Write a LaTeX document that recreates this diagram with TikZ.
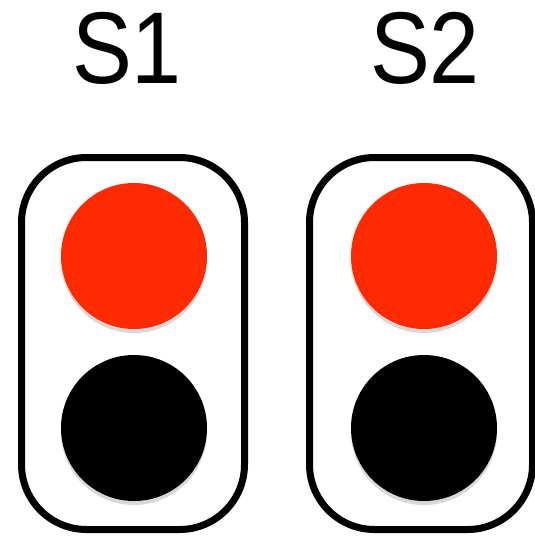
\documentclass[tikz,border=0pt]{standalone}
\usepackage{fontspec}
\setmainfont{Liberation Sans}
\usepackage{xcolor}
\usetikzlibrary{shadows,positioning}
\definecolor{lampred}{HTML}{FF2A00}

\begin{document}
\begin{tikzpicture}[
    x=1pt, y=-1pt,
    housing/.style={rectangle, draw, line width=7pt, rounded corners=65pt, minimum width=223pt, minimum height=372pt, inner sep=0pt, drop shadow={opacity=0.18, shadow xshift=0pt, shadow yshift=-3pt}, fill=white},
    lamp/.style={circle, minimum size=146pt, inner sep=0pt, drop shadow={opacity=0.3, shadow xshift=0pt, shadow yshift=-4pt}},
    redlamp/.style={lamp, fill=lampred},
    offlamp/.style={lamp, fill=black},
    title/.style={font=\fontsize{102}{104}\selectfont, anchor=base, inner sep=0pt, xscale=0.88}
    ]

    \useasboundingbox (0,0) rectangle (535,538);

    % Signal S1
    \node[title] (t1) at (127,83) {S1};
    \node[housing] (h1) at (133,343.5) {};
    \node[redlamp] (r1) at (134,256) {};
    \node[offlamp] (b1) at (134,428) {};

    % Signal S2
    \node[title] (t2) at (425,83) {S2};
    \node[housing] (h2) at (421,343.5) {};
    \node[redlamp] (r2) at (424,256) {};
    \node[offlamp] (b2) at (424,428) {};

\end{tikzpicture}
\end{document}
